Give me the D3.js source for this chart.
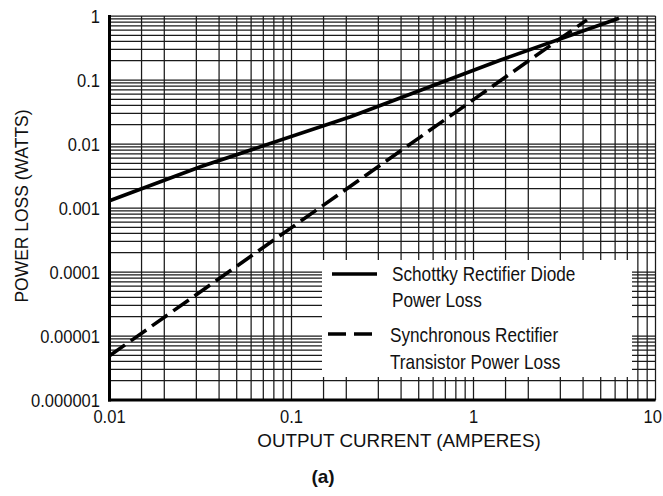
<!DOCTYPE html>
<html>
<head>
<meta charset="utf-8">
<script src="https://cdn.jsdelivr.net/npm/d3@7"></script>
<style>
  html, body { margin: 0; padding: 0; background: #fff; }
  svg { display: block; }
  text { font-family: "Liberation Sans", Arial, Helvetica, sans-serif; fill: #111; }
</style>
</head>
<body>
<svg id="chart" width="663" height="496"></svg>
<script>
// x axis: output current (A), y axis: power loss (W)
const xTicks = [0.01, 0.1, 1, 10];
const xTickLabels = ["0.01", "0.1", "1", "10"];
const yTicks = [1, 0.1, 0.01, 0.001, 0.0001, 0.00001, 0.000001];
const yTickLabels = ["1", "0.1", "0.01", "0.001", "0.0001", "0.00001", "0.000001"];

// grid lines inside each decade
const xMinorSteps = [1.5, 2, 3, 4, 5, 6, 7, 8, 9];
const yMinorSteps = [2, 3, 4, 5, 6, 7, 8, 9];

// Schottky rectifier diode power loss (solid)
const schottkyCurrent = [0.01, 0.0316, 0.211, 1.41, 6.3];
const schottkyLoss = [0.0013, 0.0044, 0.0267, 0.205, 0.92];

// synchronous rectifier transistor power loss (dashed)
const syncCurrent = [0.01, 0.08, 0.4, 1.3, 4.2];
const syncLoss = [0.0000049, 0.000316, 0.0079, 0.0836, 0.87];

const legendLabels = [
  ["Schottky Rectifier Diode", "Power Loss"],
  ["Synchronous Rectifier", "Transistor Power Loss"],
];

const svg = d3.select("#chart");

const x = d3.scaleLog().domain([0.01, 10]).range([109.5, 655.5]);
const y = d3.scaleLog().domain([0.000001, 1]).range([400, 16]);

function label(str, px, py, opts = {}) {
  const g = svg.append("g")
    .attr("transform", `translate(${px},${py}) rotate(${opts.rotate || 0}) scale(${opts.sx || 1},1)`);
  g.append("text")
    .attr("text-anchor", opts.anchor || "middle")
    .attr("font-size", opts.size || 19)
    .attr("font-weight", opts.weight || "normal")
    .text(str);
}

// grid values
const xGrid = [];
for (let d = 0; d < xTicks.length - 1; d++) {
  xGrid.push(xTicks[d]);
  for (const m of xMinorSteps) xGrid.push(xTicks[d] * m);
}
xGrid.push(xTicks[xTicks.length - 1]);

const yGrid = [];
for (let d = yTicks.length - 1; d > 0; d--) {
  yGrid.push(yTicks[d]);
  for (const m of yMinorSteps) yGrid.push(yTicks[d] * m);
}
yGrid.push(yTicks[0]);

const grid = svg.append("g").attr("stroke", "#1a1a1a").attr("stroke-width", 1.25);
grid.selectAll("line.v").data(xGrid).join("line")
  .attr("class", "v")
  .attr("x1", d => x(d)).attr("x2", d => x(d))
  .attr("y1", y.range()[1]).attr("y2", y.range()[0]);
grid.selectAll("line.h").data(yGrid).join("line")
  .attr("class", "h")
  .attr("x1", x.range()[0]).attr("x2", x.range()[1])
  .attr("y1", d => y(d)).attr("y2", d => y(d));

// heavier left and bottom axes
svg.append("line")
  .attr("x1", x.range()[0]).attr("x2", x.range()[0])
  .attr("y1", y.range()[1] - 1).attr("y2", y.range()[0] + 1.5)
  .attr("stroke", "#000").attr("stroke-width", 3);
svg.append("line")
  .attr("x1", x.range()[0] - 1.5).attr("x2", x.range()[1])
  .attr("y1", y.range()[0]).attr("y2", y.range()[0])
  .attr("stroke", "#000").attr("stroke-width", 3);

// legend box hides the grid
svg.append("rect")
  .attr("x", 322).attr("y", 260).attr("width", 310).attr("height", 117)
  .attr("fill", "#fff");

const line = d3.line().x(d => x(d[0])).y(d => y(d[1]));

svg.append("path")
  .datum(d3.zip(schottkyCurrent, schottkyLoss))
  .attr("d", line)
  .attr("fill", "none").attr("stroke", "#000").attr("stroke-width", 3.6);

svg.append("path")
  .datum(d3.zip(syncCurrent, syncLoss))
  .attr("d", line)
  .attr("fill", "none").attr("stroke", "#000").attr("stroke-width", 3.6)
  .attr("stroke-dasharray", "19,7");

// legend
svg.append("line")
  .attr("x1", 332).attr("x2", 377).attr("y1", 274).attr("y2", 274)
  .attr("stroke", "#000").attr("stroke-width", 3.6);
svg.append("line")
  .attr("x1", 328).attr("x2", 373).attr("y1", 334).attr("y2", 334)
  .attr("stroke", "#000").attr("stroke-width", 3.6)
  .attr("stroke-dasharray", "18,8");

label(legendLabels[0][0], 392, 281, { anchor: "start", size: 20, sx: 0.86 });
label(legendLabels[0][1], 392, 307, { anchor: "start", size: 20, sx: 0.86 });
label(legendLabels[1][0], 390, 342, { anchor: "start", size: 20, sx: 0.86 });
label(legendLabels[1][1], 390, 369, { anchor: "start", size: 20, sx: 0.86 });

// tick labels (last one kept inside the page edge)
xTicks.forEach((t, i) => {
  const last = i === xTicks.length - 1;
  label(xTickLabels[i], last ? 662 : x(t), 423, { size: 19, sx: 0.87, anchor: last ? "end" : "middle" });
});
yTicks.forEach((t, i) => label(yTickLabels[i], 100, y(t) + 6.5, { anchor: "end", size: 19, sx: 0.87 }));

// axis titles
label("OUTPUT CURRENT (AMPERES)", 399, 447, { size: 19, sx: 0.99 });
label("POWER LOSS (WATTS)", 28, 206, { size: 19, sx: 0.92, rotate: -90 });
label("(a)", 323, 483, { size: 19, weight: "bold" });
</script>
</body>
</html>
